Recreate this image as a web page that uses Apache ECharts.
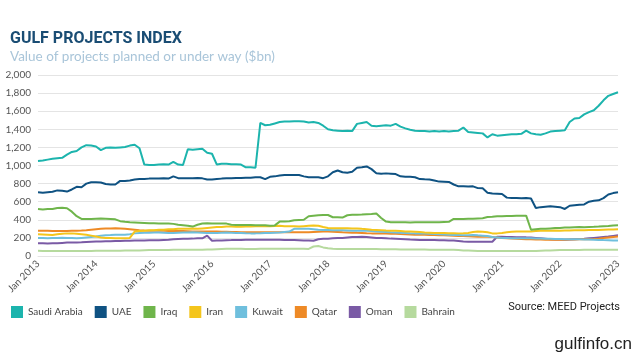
<!DOCTYPE html>
<html>
<head>
<meta charset="utf-8">
<script src="https://cdn.jsdelivr.net/npm/echarts@6/dist/echarts.min.js"></script>
<style>html,body{margin:0;padding:0;background:#fff}#c{width:640px;height:360px}</style>
</head>
<body>
<div id="c"></div>
<script>
const years = [2013,2014,2015,2016,2017,2018,2019,2020,2021,2022,2023];
const monthNames = ['Jan','Feb','Mar','Apr','May','Jun','Jul','Aug','Sep','Oct','Nov','Dec'];
const yTicks = [0,200,400,600,800,1000,1200,1400,1600,1800,2000];
const seriesNames = ['Saudi Arabia','UAE','Iraq','Iran','Kuwait','Qatar','Oman','Bahrain'];

const saudiArabia = [
 1050,1055,1065,1075,1080,1085,1120,1150,1160,1200,1225,1220,
 1210,1170,1195,1200,1195,1200,1205,1220,1230,1190,1010,1005,
 1005,1010,1015,1010,1040,1010,1005,1180,1175,1180,1185,1140,
 1130,1010,1020,1020,1015,1015,1010,980,980,975,1470,1445,
 1450,1465,1480,1485,1485,1490,1490,1485,1475,1480,1470,1440,
 1400,1390,1385,1380,1385,1380,1460,1470,1480,1440,1435,1440,
 1445,1440,1460,1430,1410,1395,1385,1380,1380,1375,1380,1375,
 1380,1375,1380,1385,1420,1370,1365,1360,1355,1310,1345,1330,
 1335,1340,1345,1345,1350,1385,1355,1345,1340,1355,1375,1380,
 1385,1390,1480,1520,1525,1565,1590,1610,1660,1720,1770,1790,
 1810];
const uae = [
 705,700,705,710,725,720,712,735,765,760,800,815,
 815,812,795,790,790,830,830,835,845,850,850,855,
 855,855,858,855,880,860,860,858,860,862,858,845,
 845,850,855,858,860,862,862,865,865,870,870,850,
 875,880,890,895,895,895,895,880,870,870,870,860,
 880,925,945,925,920,930,975,980,990,960,915,910,
 913,910,905,880,876,875,870,850,847,845,835,822,
 820,818,790,770,772,768,770,750,748,700,690,688,
 685,645,640,640,638,642,635,530,540,545,550,545,
 540,520,555,560,565,570,600,610,615,640,680,695,
 705];
const iraq = [
 518,515,518,520,530,532,528,490,440,410,408,410,
 412,414,412,410,405,385,378,372,370,368,365,362,
 362,360,358,360,355,345,340,335,325,345,360,362,
 360,360,358,358,345,343,343,342,343,340,340,340,
 335,338,380,382,385,395,398,400,440,445,450,452,
 453,428,427,425,450,455,455,458,462,465,470,420,
 380,372,372,372,372,370,372,372,372,372,373,372,
 375,378,410,410,410,412,412,415,418,430,434,440,
 440,442,442,444,445,446,290,295,300,300,305,310,
 310,315,315,318,320,318,320,322,325,330,332,338,
 340];
const iran = [
 240,238,235,232,240,245,250,250,245,240,235,225,
 215,205,200,198,195,195,195,200,270,275,280,285,
 285,290,290,295,295,300,300,300,305,300,305,310,
 315,320,320,325,325,322,322,325,325,328,330,330,
 330,332,335,330,330,328,325,330,335,338,335,320,
 310,306,306,306,306,305,305,300,296,290,288,285,
 282,280,278,275,272,270,268,265,260,258,255,254,
 254,252,252,250,252,255,265,270,268,262,250,250,
 255,262,268,270,272,272,272,275,278,280,280,282,
 280,282,283,284,285,285,286,287,288,290,292,293,
 295];
const kuwait = [
 200,198,195,198,200,202,200,198,195,200,205,210,
 215,225,230,232,235,235,235,240,250,255,258,258,
 260,260,258,255,255,258,260,260,262,260,258,255,
 255,255,258,260,258,255,255,252,250,250,252,255,
 255,258,260,265,270,300,300,302,300,295,290,288,
 288,285,285,284,282,280,280,278,278,275,272,268,
 265,262,260,258,255,252,250,250,248,245,242,240,
 238,235,232,232,230,230,232,228,225,220,210,205,
 200,198,196,195,195,195,195,193,192,190,190,188,
 188,186,185,185,184,183,182,180,178,176,175,172,
 170];
const qatar = [
 280,280,278,275,275,275,276,278,280,282,285,290,
 295,300,305,305,306,305,300,295,290,285,282,280,
 280,278,278,276,275,275,275,274,272,272,270,270,
 270,270,268,268,265,265,262,262,262,262,262,262,
 262,262,262,262,262,262,262,262,262,265,268,270,
 270,268,265,262,260,258,256,255,252,250,250,248,
 248,245,245,242,240,238,236,235,235,232,232,230,
 228,226,225,222,220,218,215,213,212,212,210,205,
 200,195,192,190,188,186,185,183,182,180,180,180,
 180,180,182,182,184,185,186,188,192,198,205,210,
 215];
const oman = [
 140,140,138,140,142,145,148,150,150,152,155,158,
 160,160,162,162,165,165,168,168,170,172,172,174,
 175,175,178,180,185,188,190,190,192,195,195,225,
 168,170,172,175,176,178,178,180,180,180,180,180,
 180,180,180,178,178,178,175,170,172,168,185,190,
 190,195,198,200,205,210,210,212,210,205,200,198,
 195,192,190,188,185,182,180,178,178,176,176,175,
 175,172,170,165,160,158,158,157,158,158,158,213,
 212,210,210,208,208,206,205,200,195,190,185,182,
 182,180,182,185,188,190,195,200,205,210,215,222,
 228];
const bahrain = [
 58,56,55,54,54,54,55,55,55,56,56,56,
 57,57,58,58,58,58,60,60,62,62,64,65,
 65,66,66,66,68,68,68,68,70,70,70,72,
 72,75,78,80,80,80,80,78,78,78,80,80,
 80,80,80,80,80,80,80,80,78,105,110,95,
 85,80,78,78,78,78,78,78,78,76,76,75,
 75,74,74,72,72,72,72,72,72,70,70,70,
 70,70,68,65,62,60,58,56,55,55,55,55,
 55,55,56,56,56,56,56,56,58,60,62,64,
 65,66,66,67,67,68,68,68,68,70,70,70,
 70];

const seriesValues = [saudiArabia, uae, iraq, iran, kuwait, qatar, oman, bahrain];
const colors = ['#1cb4ad','#0f5282','#6fb54b','#f4c51c','#6fbfdd','#ee8a26','#7a5aa5','#b6da9e'];

const categories = [];
years.forEach((y, i) => {
  const n = (i === years.length - 1) ? 1 : 12;
  for (let m = 0; m < n; m++) categories.push(monthNames[m] + ' ' + y);
});

const chart = echarts.init(document.getElementById('c'), null, {renderer: 'canvas'});
chart.setOption({
  backgroundColor: '#ffffff',
  animation: false,
  title: {
    text: 'GULF PROJECTS INDEX',
    subtext: 'Value of projects planned or under way ($bn)',
    left: 5, top: 26,
    itemGap: 3,
    textStyle: {fontFamily: 'Roboto', fontWeight: 'bold', fontSize: 16, color: '#1a4d74'},
    subtextStyle: {fontFamily: 'Lato', fontSize: 13.5, color: '#a9c5d9'}
  },
  legend: {
    left: 6, top: 301,
    itemWidth: 12, itemHeight: 12, itemGap: 12,
    icon: 'rect',
    textStyle: {fontFamily: 'Lato', fontSize: 10, color: '#444'},
    data: seriesNames
  },
  grid: {left: 38, right: 22, top: 75, bottom: 104, containLabel: false},
  xAxis: {
    type: 'category',
    data: categories,
    boundaryGap: false,
    axisLine: {show: true, lineStyle: {color: '#e4e4e4'}},
    axisTick: {show: false},
    axisLabel: {
      interval: (idx) => idx % 12 === 0,
      rotate: 45,
      fontFamily: 'Lato', fontSize: 10, color: '#555',
      margin: 6
    },
    splitLine: {show: false}
  },
  yAxis: {
    type: 'value',
    min: yTicks[0], max: yTicks[yTicks.length - 1], interval: 200,
    axisLine: {show: false},
    axisTick: {show: false},
    axisLabel: {
      fontFamily: 'Lato', fontSize: 10, color: '#555', margin: 7,
      formatter: (v) => v.toLocaleString('en-US')
    },
    splitLine: {lineStyle: {color: '#e4e4e4', width: 1}}
  },
  series: seriesNames.map((name, i) => ({
    name: name,
    type: 'line',
    data: seriesValues[i],
    showSymbol: false,
    symbol: 'none',
    z: 10 - i,
    lineStyle: {width: 2, color: colors[i]},
    itemStyle: {color: colors[i]}
  })),
  graphic: [
    {type: 'text', right: 20, top: 302,
     style: {text: 'Source: MEED Projects', fontFamily: 'Roboto', fontSize: 11, fill: '#222'}},
    {type: 'text', right: 8, top: 336,
     style: {text: 'gulfinfo.cn', fontFamily: 'Liberation Sans', fontSize: 17, fill: '#222'}}
  ]
});
</script>
</body>
</html>
